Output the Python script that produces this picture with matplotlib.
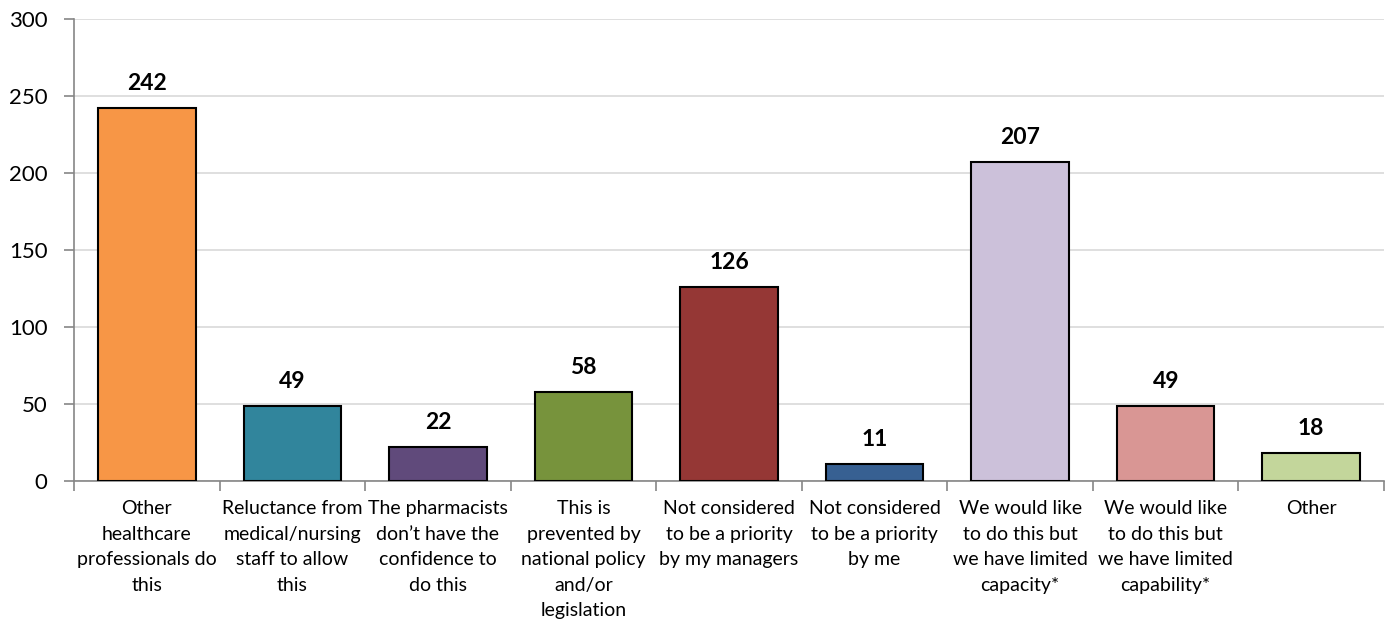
import matplotlib.pyplot as plt
import numpy as np

categories = [
    "Other\nhealthcare\nprofessionals do\nthis",
    "Reluctance from\nmedical/nursing\nstaff to allow\nthis",
    "The pharmacists\ndon\u2019t have the\nconfidence to\ndo this",
    "This is\nprevented by\nnational policy\nand/or\nlegislation",
    "Not considered\nto be a priority\nby my managers",
    "Not considered\nto be a priority\nby me",
    "We would like\nto do this but\nwe have limited\ncapacity*",
    "We would like\nto do this but\nwe have limited\ncapability*",
    "Other",
]
values = [242, 49, 22, 58, 126, 11, 207, 49, 18]
colors = ["#F79646", "#31859C", "#604A7B", "#77933C", "#953735",
          "#376092", "#CCC1DA", "#D99694", "#C3D69B"]

plt.rcParams["font.family"] = ["Lato", "DejaVu Sans"]

fig = plt.figure(figsize=(13.97, 6.25), dpi=100)
ax = fig.add_axes([0.053, 0.2304, 0.9377, 0.7392])

x = np.arange(len(values))
ax.bar(x, values, width=0.67, color=colors, edgecolor="black",
       linewidth=1.5, zorder=3)

for xi, v in zip(x, values):
    ax.text(xi, v + 9, str(v), ha="center", va="bottom",
            fontsize=16.5, fontweight="bold")

ax.set_xlim(-0.5, len(values) - 0.5)
ax.set_ylim(0, 300)
ax.set_yticks(range(0, 301, 50))
ax.yaxis.grid(True, color="#D9D9D9", linewidth=1.2, zorder=0)

ax.set_xticks(x)
ax.set_xticklabels(categories, fontsize=14, linespacing=1.6)
ax.tick_params(axis="x", length=0, pad=14)
ax.set_xticks(np.arange(-0.5, len(values)), minor=True)
ax.tick_params(axis="x", which="minor", length=7, color="#868686", width=1.2)
ax.tick_params(axis="y", labelsize=16, length=7, color="#868686", width=1.2,
               pad=12)

for s in ["top", "right"]:
    ax.spines[s].set_visible(False)
for s in ["left", "bottom"]:
    ax.spines[s].set_color("#868686")
    ax.spines[s].set_linewidth(1.2)

plt.savefig("out.png", dpi=100)
